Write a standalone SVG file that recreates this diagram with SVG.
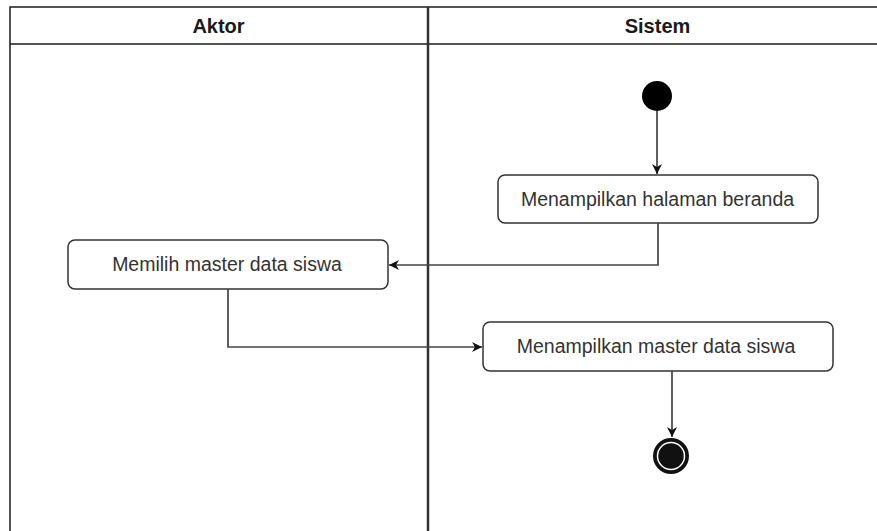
<svg xmlns="http://www.w3.org/2000/svg" width="877" height="531" viewBox="0 0 877 531">
<style>
.lane{fill:#fff;stroke:#1a1a1a;stroke-width:1.5}
.div{stroke:#333;stroke-width:2.5;fill:none}
.hdr{font-family:"Liberation Sans",Arial,sans-serif;font-size:20px;font-weight:bold;fill:#1a1a1a;text-anchor:middle}
.box{fill:#fff;stroke:#333;stroke-width:1.5}
.lbl{font-family:"Liberation Sans",Arial,sans-serif;font-size:19.5px;fill:#333;text-anchor:middle}
.edge{fill:none;stroke:#444;stroke-width:1.7}
</style>
<defs>
<marker id="arr" viewBox="0 0 10 10" refX="10" refY="5" markerWidth="10" markerHeight="10" markerUnits="userSpaceOnUse" orient="auto">
<path d="M0,0 L10,5 L0,10 L3,5 Z" fill="#111"/>
</marker>
</defs>
<g id="swimlanes">
<rect class="lane" x="10" y="7" width="890" height="540"/>
<line x1="10" y1="44" x2="900" y2="44" stroke="#1a1a1a" stroke-width="1.5"/>
<line class="div" x1="428" y1="7" x2="428" y2="540"/>
<text class="hdr" x="218.5" y="33">Aktor</text>
<text class="hdr" x="657.5" y="33">Sistem</text>
</g>
<g id="start">
<circle cx="657" cy="96" r="15" fill="#000"/>
</g>
<g id="n1">
<rect class="box" x="498" y="175" width="320" height="48" rx="7"/>
<text class="lbl" x="657.5" y="206">Menampilkan halaman beranda</text>
</g>
<g id="n2">
<rect class="box" x="68" y="240" width="320" height="49" rx="7"/>
<text class="lbl" x="227" y="271">Memilih master data siswa</text>
</g>
<g id="n3">
<rect class="box" x="483" y="322" width="350" height="49" rx="7"/>
<text class="lbl" x="656" y="353">Menampilkan master data siswa</text>
</g>
<g id="end">
<circle cx="671" cy="456" r="18" fill="#111"/>
<circle cx="671" cy="456" r="13.5" fill="none" stroke="#fff" stroke-width="1.5"/>
</g>
<g id="connectors">
<path class="edge" d="M657,111 V174" marker-end="url(#arr)"/>
<path class="edge" d="M658,223 V265 H389" marker-end="url(#arr)"/>
<path class="edge" d="M228,289 V347 H482" marker-end="url(#arr)"/>
<path class="edge" d="M672,371 V437" marker-end="url(#arr)"/>
</g>
</svg>
